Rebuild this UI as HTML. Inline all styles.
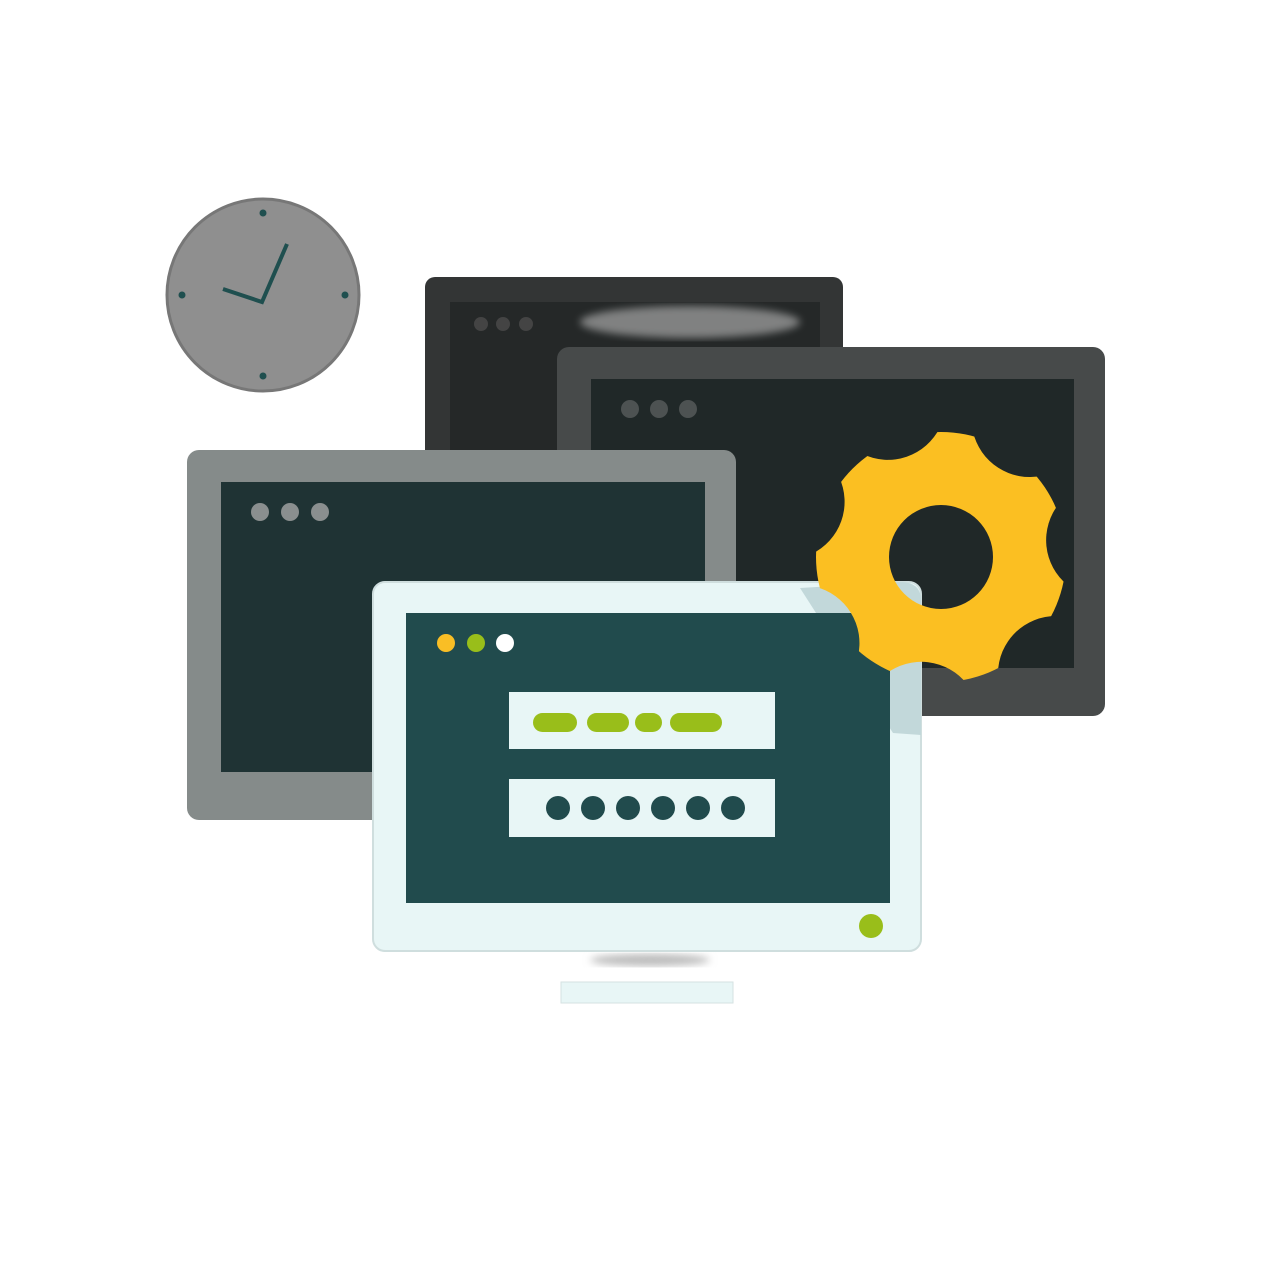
<!DOCTYPE html>
<html><head><style>html,body{margin:0;padding:0;background:#fff}</style></head>
<body>
<svg width="1280" height="1280" viewBox="0 0 1280 1280" xmlns="http://www.w3.org/2000/svg">
<defs>
<mask id="gm">
<rect x="-200" y="-200" width="400" height="400" fill="#fff"/>
<g fill="#000">
<circle cx="0" cy="-164" r="58" transform="rotate(32.7)"/>
<circle cx="0" cy="-164" r="58" transform="rotate(84.1)"/>
<circle cx="0" cy="-164" r="58" transform="rotate(135.5)"/>
<circle cx="0" cy="-164" r="58" transform="rotate(186.9)"/>
<circle cx="0" cy="-164" r="58" transform="rotate(238.3)"/>
<circle cx="0" cy="-164" r="58" transform="rotate(289.7)"/>
<circle cx="0" cy="-164" r="58" transform="rotate(341.1)"/>
<circle cx="0" cy="0" r="52"/>
</g>
</mask>
<filter id="bl"><feGaussianBlur stdDeviation="4"/></filter>
</defs>
<circle cx="263" cy="295" r="96" fill="#8f8f8f" stroke="#777" stroke-width="3"/>
<g fill="#1f4f4f">
<circle cx="263" cy="213" r="3.5"/><circle cx="345" cy="295" r="3.5"/>
<circle cx="263" cy="376" r="3.5"/><circle cx="182" cy="295" r="3.5"/>
</g>
<polyline points="223,289 262,302 287,244" fill="none" stroke="#1f4f4f" stroke-width="4"/>
<rect x="425" y="277" width="418" height="200" rx="10" fill="#333535"/>
<rect x="450" y="302" width="370" height="170" fill="#252828"/>
<ellipse cx="690" cy="322" rx="110" ry="16" fill="#bdbdbd" filter="url(#bl)" opacity="0.6"/>
<g fill="#444"><circle cx="481" cy="324" r="7"/><circle cx="503" cy="324" r="7"/><circle cx="526" cy="324" r="7"/></g>
<rect x="557" y="347" width="548" height="369" rx="12" fill="#474a4a"/>
<rect x="591" y="379" width="483" height="289" fill="#202828"/>
<g fill="#4d5252"><circle cx="630" cy="409" r="9"/><circle cx="659" cy="409" r="9"/><circle cx="688" cy="409" r="9"/></g>
<rect x="187" y="450" width="549" height="370" rx="12" fill="#858b8a"/>
<rect x="221" y="482" width="484" height="290" fill="#1f3334"/>
<g fill="#8a8f8f"><circle cx="260" cy="512" r="9"/><circle cx="290" cy="512" r="9"/><circle cx="320" cy="512" r="9"/></g>
<rect x="373" y="582" width="548" height="369" rx="12" fill="#e8f6f6" stroke="#cfdede" stroke-width="2"/>
<path d="M800 588 L900 582 Q921 582 921 600 L921 735 L893 733 Z" fill="#c2d8da"/>
<rect x="406" y="613" width="484" height="290" fill="#214b4d"/>
<circle cx="446" cy="643" r="9" fill="#f9be25"/><circle cx="476" cy="643" r="9" fill="#99be1a"/><circle cx="505" cy="643" r="9" fill="#fff"/>
<rect x="509" y="692" width="266" height="57" fill="#e8f6f6"/>
<g fill="#99be1a">
<rect x="533" y="713" width="44" height="19" rx="9.5"/><rect x="587" y="713" width="42" height="19" rx="9.5"/>
<rect x="635" y="713" width="27" height="19" rx="9.5"/><rect x="670" y="713" width="52" height="19" rx="9.5"/>
</g>
<rect x="509" y="779" width="266" height="58" fill="#e8f6f6"/>
<g fill="#214b4d">
<circle cx="558" cy="808" r="12"/><circle cx="593" cy="808" r="12"/><circle cx="628" cy="808" r="12"/>
<circle cx="663" cy="808" r="12"/><circle cx="698" cy="808" r="12"/><circle cx="733" cy="808" r="12"/>
</g>
<circle cx="871" cy="926" r="12" fill="#99be1a"/>
<ellipse cx="650" cy="960" rx="60" ry="6" fill="#bbb" filter="url(#bl)"/>
<rect x="561" y="982" width="172" height="21" fill="#e8f6f6" stroke="#d5e2e2"/>
<g transform="translate(941,557)">
<circle cx="0" cy="0" r="125" fill="#fbbf22" mask="url(#gm)"/>
</g>
</svg>
</body></html>
